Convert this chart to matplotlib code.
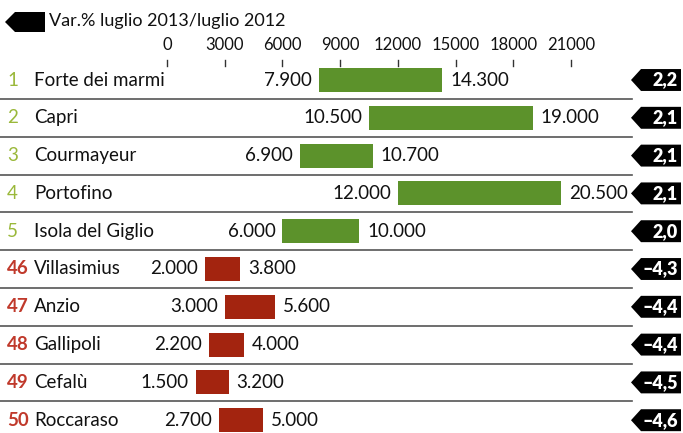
import matplotlib.pyplot as plt
from matplotlib.patches import Polygon
from matplotlib.transforms import blended_transform_factory

plt.rcParams['font.family'] = ['Lato', 'DejaVu Sans']

# === Dati ===
ranks = [1, 2, 3, 4, 5, 46, 47, 48, 49, 50]
places = ['Forte dei marmi', 'Capri', 'Courmayeur', 'Portofino', 'Isola del Giglio',
          'Villasimius', 'Anzio', 'Gallipoli', 'Cefalù', 'Roccaraso']
low_vals = [7900, 10500, 6900, 12000, 6000, 2000, 3000, 2200, 1500, 2700]
high_vals = [14300, 19000, 10700, 20500, 10000, 3800, 5600, 4000, 3200, 5000]
var_pct = [2.2, 2.1, 2.1, 2.1, 2.0, -4.3, -4.4, -4.4, -4.5, -4.6]
ticks = [0, 3000, 6000, 9000, 12000, 15000, 18000, 21000]
title = 'Var.% luglio 2013/luglio 2012'

W, H = 683, 433
fig = plt.figure(figsize=(W / 100, H / 100), dpi=100)
ax = fig.add_axes([0, 0, 1, 1])
ax.axis('off')

# scala: 0 -> px 167, 21000 -> px 571
x0_px, x1_px = 167, 571
upp = 21000 / (x1_px - x0_px)          # unità per pixel
ax.set_xlim(-x0_px * upp, (W - x0_px) * upp)
row0_px, row_step = 80, 37.8
ax.set_ylim((H - row0_px) / row_step, -row0_px / row_step)

def fx(px):
    return px / W

trans = blended_transform_factory(ax.transAxes, ax.transData)

green, red = '#5c922b', '#a3240f'
green_txt, red_txt = '#9ab83a', '#c0392b'

for i, (r, name, lo, hi, v) in enumerate(zip(ranks, places, low_vals, high_vals, var_pct)):
    pos = v > 0
    ax.barh(i, hi - lo, left=lo, height=0.64, color=green if pos else red,
            edgecolor='none')
    ax.text(lo - 7 * upp, i, f"{lo:,}".replace(',', '.'), ha='right', va='center',
            fontsize=13.5, color='#111111')
    ax.text(hi + 8 * upp, i, f"{hi:,}".replace(',', '.'), ha='left', va='center',
            fontsize=13.5, color='#111111')
    ax.text(fx(7), i, str(r), transform=trans, ha='left', va='center', fontsize=13.5,
            color=green_txt if pos else red_txt, fontweight='normal' if pos else 'bold')
    ax.text(fx(34), i, name, transform=trans, ha='left', va='center', fontsize=13.5,
            color='#111111')
    # etichetta nera a freccia
    h = 0.29
    ax.add_patch(Polygon([(fx(631), i), (fx(641), i - h), (fx(681), i - h),
                          (fx(681), i + h), (fx(641), i + h)], closed=True,
                         transform=trans, facecolor='black', edgecolor='none'))
    ax.text(fx(678), i, f"{v:.1f}".replace('.', ',').replace('-', '\u2013'),
            transform=trans, ha='right', va='center', fontsize=13,
            fontweight='heavy', color='white')
    if i < len(places) - 1:
        ax.plot([0, fx(632)], [i + 0.5, i + 0.5], transform=trans, color='#555555',
                lw=1.2)

# asse in alto
for t in ticks:
    ax.text(t, (45 - row0_px) / row_step, str(t), ha='center', va='center',
            fontsize=12, color='#111111')
    ax.plot([t, t], [(60 - row0_px) / row_step, (66 - row0_px) / row_step],
            color='#333333', lw=1)

# intestazione
ax.add_patch(Polygon([(fx(5), 1 - 22 / H), (fx(15), 1 - 12 / H), (fx(45), 1 - 12 / H),
                      (fx(45), 1 - 32 / H), (fx(15), 1 - 32 / H)], closed=True,
                     transform=ax.transAxes, facecolor='black', edgecolor='none'))
ax.text(fx(49), 1 - 21 / H, title, transform=ax.transAxes, ha='left', va='center',
        fontsize=13, color='#111111')

plt.savefig('out.png', dpi=100)
